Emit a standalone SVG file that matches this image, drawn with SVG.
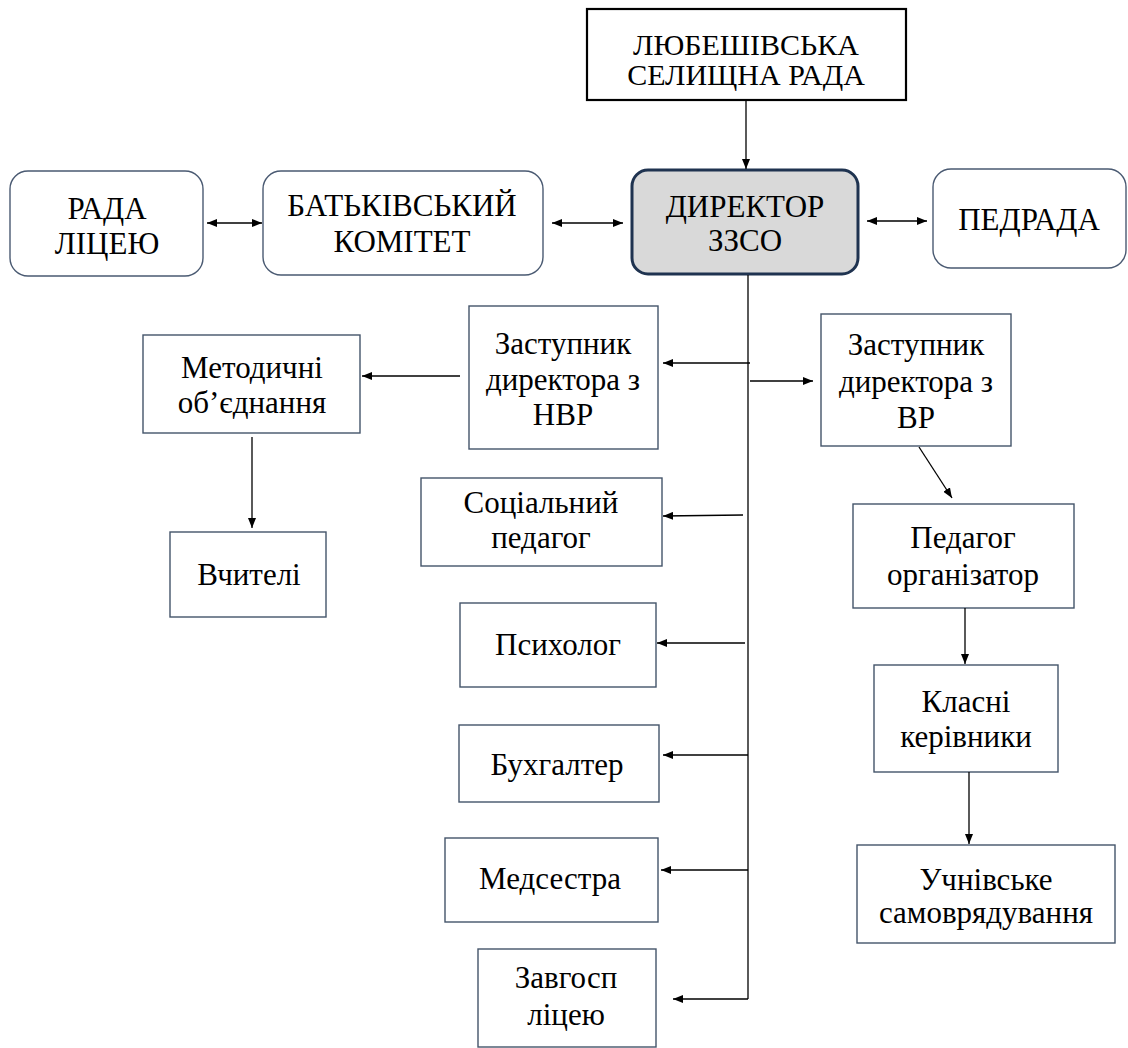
<svg xmlns="http://www.w3.org/2000/svg" width="1128" height="1048" viewBox="0 0 1128 1048">
<defs>
<marker id="ah" viewBox="0 0 10 8" refX="10" refY="4" markerWidth="10" markerHeight="8" markerUnits="userSpaceOnUse" orient="auto-start-reverse">
<path d="M0,0 L10,4 L0,8 Z" fill="#000"/>
</marker>
<style>
.box{fill:#fff;stroke:#44546a;stroke-width:1.4}
.rbox{fill:#fff;stroke:#4a5a72;stroke-width:1.4}
.top{fill:#fff;stroke:#000;stroke-width:2.2}
.dir{fill:#d9d9d9;stroke:#1f3350;stroke-width:3}
.t{font-size:31px;fill:#000;text-anchor:middle}
.tt{font-size:30px}
.c line,.c path{stroke:#000;stroke-width:1.3;fill:none}
</style>
</defs>
<rect width="1128" height="1048" fill="#fff"/>
<g class="t" font-family="'Liberation Serif', 'Times New Roman', serif">
<g id="selyshchna-rada"><rect class="top" x="587" y="9" width="319" height="91"/><text class="tt" x="746" y="55">ЛЮБЕШІВСЬКА</text><text class="tt" x="746" y="85">СЕЛИЩНА РАДА</text></g>
<g id="dyrektor"><rect class="dir" x="632" y="170" width="226" height="104" rx="16"/><text x="745" y="217">ДИРЕКТОР</text><text x="745" y="251">ЗЗСО</text></g>
<g id="rada-litseiu"><rect class="rbox" x="10" y="171" width="193" height="105" rx="18"/><text x="107" y="219">РАДА</text><text x="107" y="254">ЛІЦЕЮ</text></g>
<g id="batkivskyi-komitet"><rect class="rbox" x="263" y="171" width="280" height="104" rx="18"/><text x="402" y="216">БАТЬКІВСЬКИЙ</text><text x="402" y="252">КОМІТЕТ</text></g>
<g id="pedrada"><rect class="rbox" x="933" y="169" width="193" height="99" rx="18"/><text x="1029" y="230">ПЕДРАДА</text></g>
<g id="zast-nvr"><rect class="box" x="469" y="306" width="189" height="143"/><text x="563" y="354">Заступник</text><text x="563" y="390">директора з</text><text x="563" y="425">НВР</text></g>
<g id="zast-vr"><rect class="box" x="821" y="314" width="190" height="132"/><text x="916" y="355">Заступник</text><text x="916" y="392">директора з</text><text x="916" y="428">ВР</text></g>
<g id="metodychni"><rect class="box" x="143" y="335" width="217" height="98"/><text x="252" y="378">Методичні</text><text x="252" y="413">об’єднання</text></g>
<g id="vchyteli"><rect class="box" x="170" y="532" width="156" height="85"/><text x="249" y="585">Вчителі</text></g>
<g id="sots-pedahoh"><rect class="box" x="421" y="478" width="241" height="88"/><text x="541" y="513">Соціальний</text><text x="541" y="548">педагог</text></g>
<g id="psykholoh"><rect class="box" x="460" y="603" width="196" height="84"/><text x="558" y="655">Психолог</text></g>
<g id="bukhhalter"><rect class="box" x="459" y="725" width="200" height="77"/><text x="557" y="775">Бухгалтер</text></g>
<g id="medsestra"><rect class="box" x="445" y="838" width="213" height="84"/><text x="550" y="889">Медсестра</text></g>
<g id="zavhosp"><rect class="box" x="478" y="949" width="178" height="98"/><text x="566" y="988">Завгосп</text><text x="566" y="1025">ліцею</text></g>
<g id="pedahoh-orh"><rect class="box" x="853" y="504" width="221" height="104"/><text x="963" y="548">Педагог</text><text x="963" y="585">організатор</text></g>
<g id="klasni"><rect class="box" x="874" y="665" width="184" height="107"/><text x="966" y="712">Класні</text><text x="966" y="747">керівники</text></g>
<g id="uchnivske"><rect class="box" x="857" y="845" width="258" height="98"/><text x="986" y="890">Учнівське</text><text x="986" y="923">самоврядування</text></g>
</g>
<g class="c" id="connectors">
<line x1="746" y1="100" x2="746" y2="169" marker-end="url(#ah)"/>
<line x1="207" y1="223" x2="262" y2="223" marker-start="url(#ah)" marker-end="url(#ah)"/>
<line x1="552" y1="223" x2="623" y2="223" marker-start="url(#ah)" marker-end="url(#ah)"/>
<line x1="867" y1="221" x2="927" y2="221" marker-start="url(#ah)" marker-end="url(#ah)"/>
<line x1="748" y1="275" x2="748" y2="999"/>
<line x1="750" y1="363" x2="663" y2="363" marker-end="url(#ah)"/>
<line x1="750" y1="381" x2="813" y2="381" marker-end="url(#ah)"/>
<line x1="460" y1="376" x2="362" y2="376" marker-end="url(#ah)"/>
<line x1="252" y1="437" x2="252" y2="528" marker-end="url(#ah)"/>
<line x1="743" y1="515" x2="663" y2="516" marker-end="url(#ah)"/>
<line x1="745" y1="643" x2="657" y2="643" marker-end="url(#ah)"/>
<line x1="748" y1="755" x2="663" y2="755" marker-end="url(#ah)"/>
<line x1="748" y1="870" x2="661" y2="870" marker-end="url(#ah)"/>
<line x1="748" y1="999" x2="673" y2="999" marker-end="url(#ah)"/>
<line x1="919" y1="447" x2="952" y2="498" marker-end="url(#ah)"/>
<line x1="965" y1="608" x2="965" y2="664" marker-end="url(#ah)"/>
<line x1="969" y1="772" x2="969" y2="844" marker-end="url(#ah)"/>
</g>
</svg>
